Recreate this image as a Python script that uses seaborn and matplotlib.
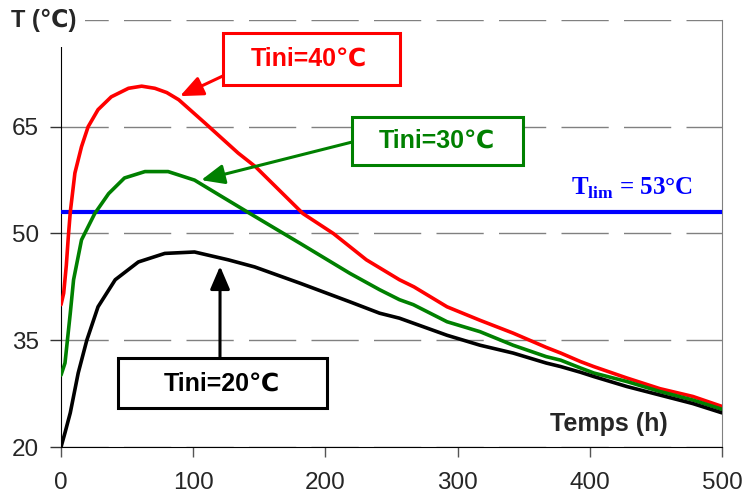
import numpy as np
import pandas as pd
import seaborn as sns
from matplotlib import pyplot as plt
from matplotlib.patches import Rectangle

# temperature curves (time in h, T in degC)
t_40 = [0, 2, 4, 5.5, 7, 10.5, 15.5, 20.5, 28, 38, 51, 61, 71, 80, 89, 109, 134, 147,
        183, 206, 231, 256, 267, 292, 317, 342, 367, 378, 393, 403, 428, 453, 478, 500]
T_40 = [40, 41.6, 45.5, 49.5, 53, 58.5, 62.2, 65.0, 67.4, 69.2, 70.4, 70.7, 70.4, 69.8, 68.8, 65.5, 61.3, 59.4,
        52.8, 50.0, 46.3, 43.5, 42.5, 39.7, 37.8, 36.0, 34.0, 33.2, 32.0, 31.3, 29.7, 28.2, 27.1, 25.7]

t_30 = [0, 3, 7, 9.5, 15.5, 25.5, 36, 48, 63.5, 81, 101, 121.5, 143, 181, 218.5, 241, 256,
        266.5, 292, 317, 342, 367, 378, 393, 403, 428, 453, 478, 500]
T_30 = [30.1, 31.8, 38.8, 43.5, 49.1, 52.8, 55.6, 57.8, 58.7, 58.7, 57.5, 55.2, 52.8, 48.6, 44.4, 42.1, 40.7,
        40.0, 37.6, 36.2, 34.3, 32.7, 32.2, 31.1, 30.4, 29.2, 27.8, 26.6, 25.3]

t_20 = [0, 3, 7, 13, 19.5, 28, 41, 58.5, 78.5, 101, 126.5, 146.5, 181, 218.5, 241, 256,
        266.5, 292, 317, 342, 367, 378, 393, 403, 428, 453, 478, 500]
T_20 = [20, 22.0, 24.8, 30.4, 35.0, 39.7, 43.5, 46.0, 47.2, 47.4, 46.3, 45.3, 43.0, 40.4, 38.8, 38.1,
        37.4, 35.7, 34.3, 33.2, 31.8, 31.3, 30.5, 29.9, 28.5, 27.3, 26.1, 24.8]

T_lim = 53
x_ticks = [0, 100, 200, 300, 400, 500]
y_ticks = [20, 35, 50, 65, 80]
y_labels = ["20", "35", "50", "65", ""]

sns.set_style("ticks")
plt.rcParams["font.family"] = ["Liberation Sans", "DejaVu Sans"]
plt.rcParams["mathtext.fontset"] = "custom"
plt.rcParams["mathtext.rm"] = "Liberation Serif"
plt.rcParams["mathtext.bf"] = "Liberation Serif:bold"

fig = plt.figure(figsize=(7.46, 4.97), dpi=100)
ax = fig.add_axes([0.0818, 0.1006, 0.886, 0.8592])

sns.lineplot(x=t_40, y=T_40, color="#FF0000", lw=2.6, ax=ax, zorder=4)
sns.lineplot(x=t_30, y=T_30, color="#008000", lw=2.6, ax=ax, zorder=4)
sns.lineplot(x=t_20, y=T_20, color="black", lw=2.6, ax=ax, zorder=4)
ax.axhline(T_lim, color="#0000FF", lw=3, zorder=3)

ax.set_xlim(0, 500)
ax.set_ylim(20, 80)
ax.set_xticks(x_ticks)
ax.set_yticks(y_ticks)
ax.set_yticklabels(y_labels)
ax.set_xlabel("")
ax.set_ylabel("")
ax.yaxis.grid(True, color="#808080", linestyle=(0, (34, 11)), lw=1)
ax.set_axisbelow(True)
ax.spines["top"].set_visible(False)
ax.spines["right"].set_color("#808080")
ax.spines["left"].set_color("black")
ax.spines["bottom"].set_color("black")
ax.tick_params(axis="x", direction="out", length=7, width=1, labelsize=17.5, pad=11, color="#555555")
ax.tick_params(axis="y", direction="out", length=8, width=1, labelsize=17.5, pad=8, color="#333333")

# annotation boxes
def label_box(x0, y0, x1, y1, text, tx, ty, color, tip, start):
    ax.add_patch(Rectangle((x0, y0), x1 - x0, y1 - y0, transform=ax.transAxes,
                           facecolor="white", edgecolor=color, lw=2.2, zorder=6, clip_on=False))
    ax.text(tx, ty, text, transform=ax.transAxes, ha="center", va="center",
            fontsize=18, fontweight="bold", color=color, zorder=7)
    ax.annotate("", xy=tip, xycoords="data", xytext=start, textcoords="axes fraction",
                arrowprops=dict(arrowstyle="-|>,head_length=0.7,head_width=0.3", mutation_scale=20,
                                color=color, lw=2.2, shrinkA=0, shrinkB=0), zorder=6)

label_box(0.245, 0.848, 0.513, 0.970, "Tini=40℃", 0.375, 0.909, "#FF0000", (90, 69.3), (0.245, 0.869))
label_box(0.440, 0.660, 0.699, 0.773, "Tini=30℃", 0.569, 0.717, "#008000", (106, 57.5), (0.440, 0.714))
label_box(0.086, 0.091, 0.402, 0.208, "Tini=20℃", 0.244, 0.148, "black", (120.3, 45.4), (0.2405, 0.208))

ax.text(0.956, 0.590, r"$\mathbf{T}_{\mathbf{lim}}$ = 53°C", transform=ax.transAxes,
        ha="right", va="baseline", fontsize=18, fontweight="bold", color="#0000FF",
        family="Liberation Serif", zorder=7)
ax.text(0.829, 0.054, "Temps (h)", transform=ax.transAxes, ha="center", va="center",
        fontsize=18, fontweight="bold", zorder=7)

# white area behind the y axis title
fig.add_artist(Rectangle((0, 1 - 47 / 497), 85 / 746, 47 / 497, transform=fig.transFigure,
                         facecolor="white", edgecolor="none", zorder=5))
fig.text(0.058, 0.958, "T (℃)", ha="center", va="center", fontsize=17, fontweight="bold", zorder=6)

fig.savefig("out.png", dpi=100)
